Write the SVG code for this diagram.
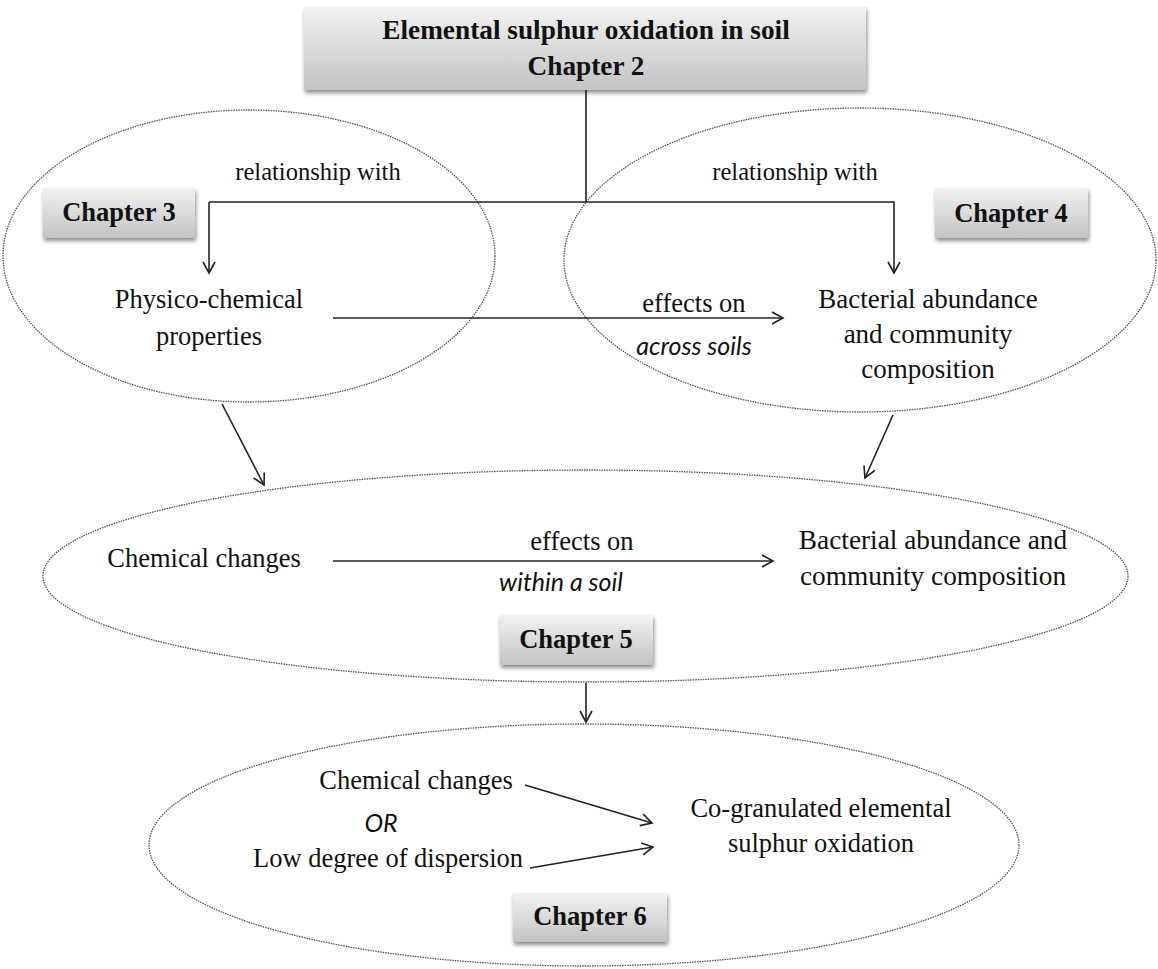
<svg xmlns="http://www.w3.org/2000/svg" width="1158" height="969" viewBox="0 0 1158 969">
<defs>
<linearGradient id="g" x1="0" y1="0" x2="0" y2="1">
<stop offset="0" stop-color="#f2f2f2"/>
<stop offset="1" stop-color="#c3c3c3"/>
</linearGradient>
<filter id="sh" x="-10%" y="-20%" width="125%" height="160%">
<feDropShadow dx="1" dy="3" stdDeviation="2" flood-color="#000" flood-opacity="0.45"/>
</filter>
<marker id="ah" markerWidth="14" markerHeight="14" refX="12" refY="7" orient="auto" markerUnits="userSpaceOnUse">
<path d="M1,1 L12,7 L1,13" fill="none" stroke="#222" stroke-width="1.6"/>
</marker>
</defs>
<style>
.t{font-family:"Liberation Serif","Times New Roman",serif;font-size:26.5px;fill:#111;}
.s{font-family:"Liberation Serif","Times New Roman",serif;font-size:24.5px;fill:#111;}
.b{font-family:"Liberation Serif","Times New Roman",serif;font-size:26.5px;font-weight:bold;fill:#111;}
.i{font-family:Lato,"Open Sans",sans-serif;font-size:25px;font-style:italic;fill:#111;}
.box{fill:url(#g);filter:url(#sh);}
.ell{fill:none;stroke:#555;stroke-width:1.3;stroke-dasharray:1.5 1;}
.c{fill:none;stroke:#222;stroke-width:1.6;}
.a{fill:none;stroke:#222;stroke-width:1.6;marker-end:url(#ah);}
</style>
<rect width="1158" height="969" fill="#fff"/>

<g id="ellipse-ch3"><ellipse class="ell" cx="249" cy="256" rx="246" ry="146"/></g>
<g id="ellipse-ch4"><ellipse class="ell" cx="860" cy="260" rx="296" ry="152"/></g>
<g id="ellipse-ch5"><ellipse class="ell" cx="585.5" cy="576" rx="542.5" ry="106"/></g>
<g id="ellipse-ch6"><ellipse class="ell" cx="584" cy="845" rx="435" ry="121"/></g>

<g id="connectors">
<path class="c" d="M586,90 V202"/>
<path class="a" d="M209,202 H894 V273"/>
<path class="a" d="M209,202 V273"/>
<path class="a" d="M333,318 H783"/>
<path class="a" d="M222,404 L264,485"/>
<path class="a" d="M893,415 L865,478"/>
<path class="a" d="M333,561 H773"/>
<path class="a" d="M586,683 V722"/>
<path class="a" d="M525,785 L652,823"/>
<path class="a" d="M530,868 L653,847"/>
</g>

<g id="title">
<rect class="box" x="304" y="7" width="562" height="83"/>
<text class="b" x="586" y="39" text-anchor="middle" style="font-size:27.3px">Elemental sulphur oxidation in soil</text>
<text class="b" x="586" y="75" text-anchor="middle" style="font-size:27.3px">Chapter 2</text>
</g>

<g id="chapter3">
<rect class="box" x="43" y="188" width="152" height="50"/>
<text class="b" x="119" y="221" text-anchor="middle">Chapter 3</text>
</g>
<g id="chapter4">
<rect class="box" x="935" y="188" width="153" height="50"/>
<text class="b" x="1011" y="222" text-anchor="middle">Chapter 4</text>
</g>
<g id="chapter5">
<rect class="box" x="500" y="615" width="153" height="50"/>
<text class="b" x="576" y="648" text-anchor="middle">Chapter 5</text>
</g>
<g id="chapter6">
<rect class="box" x="513" y="893" width="154" height="49"/>
<text class="b" x="590" y="925" text-anchor="middle">Chapter 6</text>
</g>

<g id="rel-left"><text class="s" x="318" y="180" text-anchor="middle">relationship with</text></g>
<g id="rel-right"><text class="s" x="795" y="180" text-anchor="middle">relationship with</text></g>

<g id="physico">
<text class="t" x="209" y="308" text-anchor="middle">Physico-chemical</text>
<text class="t" x="209" y="345" text-anchor="middle">properties</text>
</g>
<g id="effects-across">
<text class="t" x="694" y="312" text-anchor="middle">effects on</text>
<text class="i" x="694" y="355" text-anchor="middle">across soils</text>
</g>
<g id="bacterial-ch4">
<text class="t" x="928" y="308" text-anchor="middle" style="font-size:27px">Bacterial abundance</text>
<text class="t" x="928" y="343" text-anchor="middle" style="font-size:27px">and community</text>
<text class="t" x="928" y="378" text-anchor="middle" style="font-size:27px">composition</text>
</g>

<g id="chem-ch5"><text class="t" x="204" y="567" text-anchor="middle">Chemical changes</text></g>
<g id="effects-within">
<text class="t" x="582" y="550" text-anchor="middle">effects on</text>
<text class="i" x="561" y="591" text-anchor="middle">within a soil</text>
</g>
<g id="bacterial-ch5">
<text class="t" x="933" y="549" text-anchor="middle" style="font-size:27.3px">Bacterial abundance and</text>
<text class="t" x="933" y="585" text-anchor="middle" style="font-size:27.3px">community composition</text>
</g>

<g id="chem-ch6"><text class="t" x="416" y="789" text-anchor="middle">Chemical changes</text></g>
<g id="or"><text class="i" x="381" y="832" text-anchor="middle">OR</text></g>
<g id="low-disp"><text class="t" x="388" y="867" text-anchor="middle">Low degree of dispersion</text></g>
<g id="cogran">
<text class="t" x="821" y="817" text-anchor="middle">Co-granulated elemental</text>
<text class="t" x="821" y="852" text-anchor="middle">sulphur oxidation</text>
</g>
</svg>
